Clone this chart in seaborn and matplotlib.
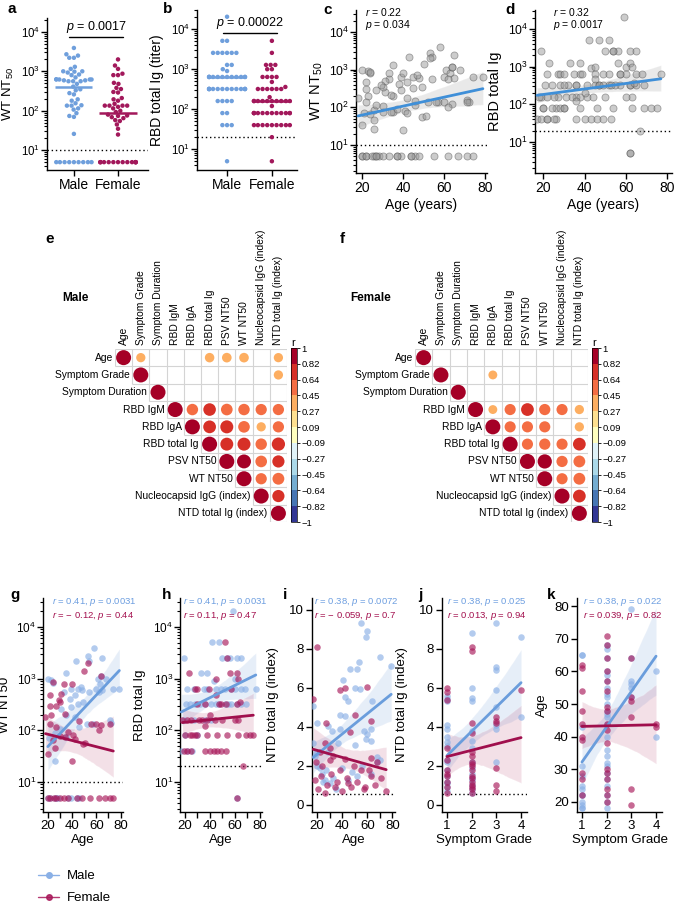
import numpy as np
import pandas as pd
import matplotlib
matplotlib.use("Agg")
import matplotlib.pyplot as plt
import matplotlib.cm as cm
from matplotlib.colors import ListedColormap, BoundaryNorm
from matplotlib.lines import Line2D
import seaborn as sns

# ---------- data ----------
# WT NT50 (a, c, g): age and titer per donor, 5 = below detection
wt_male_age = [58, 53, 54, 43, 65, 35, 23, 24, 61, 63, 68, 33, 39, 45, 48, 54, 60, 65, 74, 79,
               42, 49, 38, 45, 39, 31, 35, 42, 52, 57, 46, 71, 72, 30, 26, 26, 21, 35, 20, 47,
               64, 62, 20, 22, 26, 27, 28, 37, 39, 44, 46]
wt_male = [3900, 2700, 2200, 2200, 2500, 1300, 930, 830, 1000, 800, 980, 560, 620, 620, 590, 560,
           630, 590, 620, 620, 480, 350, 410, 330, 280, 260, 195, 180, 135, 135, 115, 155, 138, 107,
           87, 26, 70, 74, 1000, 700, 1150, 560, 5, 5, 5, 5, 5, 5, 5, 5, 5]
wt_female_age = [53, 50, 64, 24, 33, 40, 31, 30, 22, 22, 27, 29, 34, 18, 23, 22, 27, 37, 30, 34,
                 41, 42, 49, 51, 56, 60, 64, 71, 24, 26, 40, 20, 46, 62, 20, 22, 25, 27, 30, 33,
                 37, 44, 48, 55, 62, 67, 71, 74]
wt_female = [2000, 1400, 1150, 870, 800, 800, 510, 355, 480, 300, 290, 380, 210, 180, 195, 135, 115,
             93, 76, 74, 80, 69, 55, 58, 135, 135, 126, 135, 65, 45, 25, 35, 150, 100,
             5, 5, 5, 5, 5, 5, 5, 5, 5, 5, 5, 5, 5, 5]

# RBD total Ig (b, d, h)
rbd_male_age = [59, 42, 47, 19, 54, 56, 62, 50, 65, 33, 38, 60, 43, 22, 27, 35, 45, 49, 57, 60, 65,
                77, 38, 52, 68, 21, 24, 32, 41, 45, 47, 52, 57, 65, 69, 28, 36, 55, 62, 19, 27, 36,
                41, 20, 30, 17, 22, 26, 62]
rbd_male = [20480, 5120, 5120, 2560, 2560, 2560, 2560, 2560, 2560, 1280, 1280, 1000, 900,
            640, 640, 640, 640, 640, 640, 640, 640, 640, 640, 640, 640,
            320, 320, 320, 320, 320, 320, 320, 320, 320, 320, 320, 320, 320, 320,
            160, 160, 160, 160, 80, 80, 40, 40, 40, 5]
rbd_female_age = [52, 54, 23, 62, 56, 63, 45, 28, 30, 39, 57, 47, 49, 53, 36, 30, 62, 45, 64, 40,
                  18, 25, 31, 34, 44, 50, 63, 22, 38, 60, 36, 26, 28, 38, 46, 54, 63, 69, 72, 20,
                  24, 30, 75, 19, 36, 40, 43, 46, 49, 53, 22, 25, 67, 62]
rbd_female = [5120, 2560, 1280, 1280, 1280, 1000, 1000, 640, 640, 640, 640,
              320, 320, 320, 320, 320, 320, 480, 360, 200,
              160, 160, 160, 160, 160, 160, 160, 160, 160, 160, 120,
              80, 80, 80, 80, 80, 80, 80, 80, 80, 80, 80, 80,
              40, 40, 40, 40, 40, 40, 40, 40, 40, 20, 5]

# NTD total Ig (index) vs age (i)
ntd_male_age = [55, 60, 59, 70, 79, 53, 46, 52, 41, 50, 54, 42, 45, 64, 17, 38, 42, 20, 29, 32, 38,
                57, 60, 63, 59, 63, 37, 50, 17, 19, 29, 68, 68, 18, 20, 22, 24, 25, 27, 30, 33, 35,
                40, 45, 48, 52, 56, 63, 70, 26]
ntd_male = [9.3, 8.9, 8.6, 7.6, 7.1, 7.3, 6.95, 6.95, 6.4, 6.0, 5.95, 5.55, 5.35, 5.3, 5.05, 4.6,
            4.55, 4.2, 4.05, 3.8, 3.9, 3.8, 3.65, 3.9, 3.4, 3.3, 3.15, 3.05, 3.15, 2.65, 2.7, 2.45,
            2.2, 2.5, 2.0, 1.9, 1.6, 1.2, 1.8, 1.1, 1.4, 0.8, 1.9, 1.3, 1.7, 1.5, 2.0, 1.6, 2.3, 1.3]
ntd_female_age = [20, 17, 38, 42, 60, 27, 50, 63, 46, 26, 30, 63, 42, 49, 19, 24, 38, 55, 61, 18,
                  21, 23, 26, 28, 31, 34, 36, 40, 44, 47, 52, 57, 63, 66, 71, 75, 22, 30, 33, 58,
                  68, 45]
ntd_female = [8.1, 5.45, 5.9, 6.0, 6.05, 4.2, 4.6, 4.3, 3.75, 3.15, 2.9, 2.4, 2.35, 2.0, 2.2, 2.0,
              1.8, 1.8, 1.8, 1.3, 0.8, 1.5, 0.6, 1.0, 1.6, 0.9, 1.2, 0.7, 1.4, 0.9, 1.2, 0.8, 1.5,
              1.0, 1.4, 0.7, 2.7, 2.3, 2.5, 0.9, 2.2, 1.1]

# NTD total Ig vs symptom grade (j)
sg_ntd_male = [1, 1, 1, 1, 1, 1, 1, 1, 1, 1, 1, 1, 1, 1, 1, 1,
               2, 2, 2, 2, 2, 2, 2, 2, 2, 2, 2, 2, 2, 2, 2,
               3, 3, 3, 3, 3, 3, 3, 3, 4, 4]
ntd_sg_male = [5.3, 5.45, 5.6, 4.1, 3.9, 3.5, 3.2, 3.0, 2.3, 2.2, 1.8, 1.5, 1.2, 0.9, 0.7, 1.1,
               8.8, 6.0, 5.5, 5.35, 3.8, 3.3, 2.9, 2.2, 1.9, 1.6, 1.3, 1.0, 0.8, 0.6, 1.4,
               9.3, 7.05, 6.9, 5.9, 5.0, 4.1, 3.9, 2.2, 8.6, 4.5]
sg_ntd_female = [1, 1, 1, 1, 1, 1, 1, 1, 1, 1, 1,
                 2, 2, 2, 2, 2, 2, 2, 2, 2, 2, 2, 2, 2, 2, 2, 2, 2,
                 3, 3, 3, 3, 3, 3, 4]
ntd_sg_female = [6.0, 5.8, 5.4, 2.9, 1.8, 1.5, 1.2, 0.9, 0.6, 2.3, 1.6,
                 8.1, 7.9, 4.2, 3.7, 2.7, 2.5, 2.2, 2.0, 1.8, 1.5, 1.2, 1.0, 0.8, 0.6, 1.4, 2.1, 0.9,
                 4.5, 4.3, 4.2, 1.9, 1.0, 0.7, 5.9]

# Age vs symptom grade (k)
sg_age_male = [1, 1, 1, 1, 1, 1, 1, 1, 1, 1, 1, 1, 1,
               2, 2, 2, 2, 2, 2, 2, 2, 2, 2, 2, 2, 2, 2, 2, 2, 2, 2, 2, 2, 2, 2, 2, 2, 2,
               3, 3, 3, 3, 3, 3, 4, 4]
age_sg_male = [65, 65, 43, 31, 28, 25, 24, 22, 22, 20, 19, 18, 18,
               68, 67, 64, 60, 59, 57, 55, 53, 52, 50, 48, 47, 46, 44, 40, 36, 34, 32, 31, 29, 27,
               25, 22, 20, 18,
               79, 64, 57, 56, 55, 52, 60, 40]
sg_age_female = [1, 1, 1, 1, 1, 1, 1, 1, 1, 1,
                 2, 2, 2, 2, 2, 2, 2, 2, 2, 2, 2, 2, 2, 2, 2, 2, 2,
                 3, 3, 3, 3, 3, 3, 4, 4]
age_sg_female = [62, 61, 54, 48, 44, 40, 39, 29, 27, 22,
                 71, 68, 64, 60, 57, 54, 49, 48, 44, 42, 38, 30, 29, 27, 24, 22, 20,
                 64, 52, 51, 46, 24, 19, 44, 43]

# correlation matrices (upper triangle, each row starts at the diagonal; None = not significant)
corr_vars = ["Age", "Symptom Grade", "Symptom Duration", "RBD IgM", "RBD IgA", "RBD total Ig",
             "PSV NT50", "WT NT50", "Nucleocapsid IgG (index)", "NTD total Ig (index)"]
male_corr = [
    [1, 0.38, None, None, None, 0.40, 0.41, 0.41, None, 0.38],
    [1, None, None, None, None, None, None, None, 0.38],
    [1, None, None, None, None, None, None, None],
    [1, 0.58, 0.70, 0.60, 0.58, 0.56, 0.56],
    [1, 0.72, 0.75, 0.60, 0.38, 0.56],
    [1, 0.74, 0.75, 0.58, 0.78],
    [1, 0.86, 0.60, 0.66],
    [1, 0.56, 0.62],
    [1, 0.66],
    [1],
]
female_corr = [
    [1, None, None, None, None, None, None, None, None, None],
    [1, None, None, 0.35, None, None, None, None, None],
    [1, None, None, None, None, None, None, None],
    [1, 0.35, 0.55, 0.72, 0.56, 0.55, 0.38],
    [1, 0.55, 0.55, 0.55, None, 0.38],
    [1, 0.55, 0.56, 0.55, 0.72],
    [1, 0.90, 0.56, 0.62],
    [1, 0.55, 0.62],
    [1, 0.72],
    [1],
]
corr_bounds = np.linspace(-1, 1, 12)

# ---------- style ----------
sns.set_theme(style="ticks")
plt.rcParams.update({
    "font.family": ["Liberation Sans", "DejaVu Sans"],
    "mathtext.fontset": "custom",
    "mathtext.rm": "Liberation Sans",
    "mathtext.it": "Liberation Sans:italic",
    "mathtext.bf": "Liberation Sans:bold",
    "axes.linewidth": 1.0,
    "axes.edgecolor": "black",
    "xtick.color": "black",
    "ytick.color": "black",
    "text.color": "black",
    "axes.labelcolor": "black",
})

MALE = "#6f9fdc"
FEMALE = "#a2185b"
MALE_PT = "#8ab0e6"
FEMALE_PT = "#a8185a"
MALE_BAND = "#5b8fd6"
FEMALE_BAND = "#b03060"
MALE_LN = "#6a9ddc"
FEMALE_LN = "#a00f4d"
MALE_TXT = "#6d9ee0"
FEMALE_TXT = "#a3104e"
REG = "#3f8fd8"

W, H = 674, 905
fig = plt.figure(figsize=(W / 100, H / 100), dpi=100)


def box(l, t, r, b):
    return [l / W, 1 - b / H, (r - l) / W, (b - t) / H]


def letter(x, y, s):
    fig.text(x / W, 1 - y / H, s, fontsize=11, fontweight="bold", va="center", ha="left")


def clean(ax, size):
    sns.despine(ax=ax)
    ax.tick_params(which="major", length=4, width=1, direction="out", pad=2, labelsize=size)
    ax.tick_params(which="minor", length=2.2, width=0.8, direction="out")


def log_ticks(ax, lo, hi, size):
    majors = [n for n in range(0, 6) if lo <= n <= hi]
    ax.set_ylim(lo, hi)
    ax.set_yticks(majors)
    ax.set_yticklabels([f"$10^{{{n}}}$" for n in majors], fontsize=size)
    minors = [np.log10(k * 10.0 ** n) for n in range(0, 5) for k in range(2, 10)]
    ax.set_yticks([m for m in minors if lo <= m <= hi], minor=True)
    ax.tick_params(axis="y", which="major", pad=1)


def fit(ax, x, y, band, line):
    # CI band in one colour, fitted line in another
    x = np.asarray(x, float)
    y = np.asarray(y, float)
    sns.regplot(x=x, y=y, scatter=False, ax=ax, color=band, seed=0, line_kws=dict(lw=0))
    sns.regplot(x=x, y=y, scatter=False, ax=ax, ci=None, line_kws=dict(color=line, lw=2, zorder=4))


# ========== a, b: swarm by sex ==========
def strip_panel(ax, male, female, lod, ylo, yhi, xlim, ylabel, lx, lsize, ptxt, pline):
    df = pd.DataFrame({"sex": ["Male"] * len(male) + ["Female"] * len(female),
                       "v": np.log10(np.r_[male, female].astype(float))})
    sns.swarmplot(data=df, x="sex", y="v", hue="sex", order=["Male", "Female"],
                  palette={"Male": MALE, "Female": FEMALE}, size=3.2, linewidth=0,
                  legend=False, ax=ax, warn_thresh=1)
    for i, (s, c) in enumerate([("Male", MALE), ("Female", FEMALE)]):
        med = np.log10(np.median(10 ** df.loc[df.sex == s, "v"]))
        ax.hlines(med, i - 0.42, i + 0.42, color=c, lw=1.8, zorder=4)
    ax.axhline(np.log10(lod), ls=(0, (1, 2)), color="black", lw=1)
    ax.plot([-0.1, 1.12], [pline, pline], color="black", lw=1)
    ax.text(0.51, pline + 0.06, ptxt, ha="center", va="bottom", fontsize=9)
    clean(ax, 10)
    log_ticks(ax, ylo, yhi, 8.3)
    ax.set_xlim(*xlim)
    ax.set_xlabel("")
    ax.set_ylabel(ylabel, fontsize=lsize)
    ax.yaxis.set_label_coords(lx, 0.5)


ax_a = fig.add_axes(box(47, 18, 148, 170))
strip_panel(ax_a, wt_male, wt_female, 10, 0.5, 4.35, (-0.61, 1.68), "WT NT$_{50}$", -0.31, 9.5,
            "$p$ = 0.0017", 3.86)
ax_b = fig.add_axes(box(197, 10, 297, 170))
strip_panel(ax_b, rbd_male, rbd_female, 20, 0.48, 4.48, (-0.67, 1.56), "RBD total Ig (titer)",
            -0.33, 10, "$p$ = 0.00022", 3.9)


# ========== c, d: all donors vs age ==========
def scatter_panel(ax, age, vals, lod, ylo, yhi, xlim, ylabel, lx, rtxt, ptxt, tx):
    x = np.asarray(age, float)
    y = np.log10(np.asarray(vals, float))
    fit(ax, x, y, "#707070", REG)
    sns.scatterplot(x=x, y=y, ax=ax, color="#9a9a9a", alpha=0.5, edgecolor="#555555",
                    linewidth=0.6, s=26, zorder=3)
    ax.axhline(np.log10(lod), ls=(0, (1, 2)), color="black", lw=1)
    clean(ax, 10)
    log_ticks(ax, ylo, yhi, 8.8)
    ax.set_xlim(*xlim)
    ax.set_xticks([20, 40, 60, 80])
    ax.set_xlabel("Age (years)", fontsize=10, labelpad=2)
    ax.set_ylabel(ylabel, fontsize=10.5)
    ax.yaxis.set_label_coords(lx, 0.5)
    ax.text(tx, 0.985, rtxt, transform=ax.transAxes, fontsize=7.5, va="center")
    ax.text(tx, 0.91, ptxt, transform=ax.transAxes, fontsize=7.5, va="center")


ax_c = fig.add_axes(box(356, 10, 487, 173))
scatter_panel(ax_c, wt_male_age + wt_female_age, wt_male + wt_female, 10, 0.26, 4.58,
              (17, 81), "WT NT$_{50}$", -0.24, "$r$ = 0.22", "$p$ = 0.034", 0.07)
ax_d = fig.add_axes(box(535, 10, 672, 173))
scatter_panel(ax_d, rbd_male_age + rbd_female_age, rbd_male + rbd_female, 20, 0.18, 4.5,
              (16, 82.4), "RBD total Ig", -0.24, "$r$ = 0.32", "$p$ = 0.0017", 0.13)


# ========== e, f: correlation matrices ==========
cmap = plt.get_cmap("RdYlBu_r", 11)
bin_colors = [cmap(i) for i in range(11)]


def corr_panel(ax, cax, rows, title, tx):
    recs = []
    for i, row in enumerate(rows):
        for k, r in enumerate(row):
            if r is None:
                continue
            b = int(np.digitize(r, corr_bounds[1:-1]))
            recs.append(dict(x=i + k, y=i, a=abs(r), bin=str(b)))
    df = pd.DataFrame(recs)
    n = len(corr_vars)
    # grid of upper triangle
    ax.hlines([k - 0.5 for k in range(n + 1)], [max(k - 1, 0) - 0.5 for k in range(n + 1)],
              n - 0.5, color="#d4d4d4", lw=0.8, zorder=1)
    ax.vlines([k - 0.5 for k in range(n + 1)], -0.5, [min(k, n - 1) + 0.5 for k in range(n + 1)],
              color="#d4d4d4", lw=0.8, zorder=1)
    sns.scatterplot(data=df, x="x", y="y", hue="bin", size="a", sizes=(0, 117),
                    size_norm=(0, 1), palette={str(i): bin_colors[i] for i in range(11)},
                    linewidth=0, legend=False, ax=ax, zorder=2)
    for i, name in enumerate(corr_vars):
        ax.text(i - 0.62, i, name, ha="right", va="center", fontsize=7.4)
        ax.text(i, -0.75, name, ha="center", va="bottom", rotation=90, fontsize=7.4)
    ax.set_xlim(-0.5, n - 0.5)
    ax.set_ylim(n - 0.5, -0.5)
    ax.axis("off")
    fig.text(tx / W, 1 - 298 / H, title, fontsize=8.5, fontweight="bold", va="center")
    sm = cm.ScalarMappable(norm=BoundaryNorm(corr_bounds, 11), cmap=ListedColormap(bin_colors))
    cb = fig.colorbar(sm, cax=cax, ticks=corr_bounds)
    labs = []
    for v in corr_bounds:
        if abs(abs(v) - 1) < 1e-9:
            labs.append(f"{v:.0f}".replace("-", "\u2212"))
        else:
            labs.append(f"{v:.2f}".replace("-", "\u2212"))
    cb.ax.set_yticklabels(labs)
    cb.ax.tick_params(labelsize=6.8, length=2, width=0.6, pad=1)
    cb.outline.set_linewidth(0.5)
    cax.set_title("r", fontsize=8, pad=1, loc="left")


ax_e = fig.add_axes(box(115, 349, 287, 522))
cax_e = fig.add_axes(box(291, 348, 297, 522))
corr_panel(ax_e, cax_e, male_corr, "Male", 62)
ax_f = fig.add_axes(box(415, 349, 588, 522))
cax_f = fig.add_axes(box(592, 348, 598, 522))
corr_panel(ax_f, cax_f, female_corr, "Female", 350)


# ========== g-k: by sex ==========
def sex_panel(ax, xm, ym, xf, yf, txt_m, txt_f, tx, xlabel, ylabel, lx):
    fit(ax, xm, ym, MALE_BAND, MALE_LN)
    fit(ax, xf, yf, FEMALE_BAND, FEMALE_LN)
    sns.scatterplot(x=xm, y=ym, ax=ax, color=MALE_PT, alpha=0.65, linewidth=0, s=22, zorder=3)
    sns.scatterplot(x=xf, y=yf, ax=ax, color=FEMALE_PT, alpha=0.65, linewidth=0, s=22, zorder=3)
    ax.text(tx, 0.98, txt_m, transform=ax.transAxes, fontsize=6.8, color=MALE_TXT, va="center")
    ax.text(tx, 0.918, txt_f, transform=ax.transAxes, fontsize=6.8, color=FEMALE_TXT, va="center")
    ax.set_xlabel(xlabel, fontsize=9.5, labelpad=1)
    ax.set_ylabel(ylabel, fontsize=9.5)
    ax.yaxis.set_label_coords(lx, 0.5)
    clean(ax, 9.5)


def age_axis(ax):
    ax.set_xlim(16, 82)
    ax.set_xticks([20, 40, 60, 80])
    ax.set_xticks([30, 50, 70], minor=True)
    ax.tick_params(axis="x", which="minor", length=4, width=1)


def grade_axis(ax):
    ax.set_xlim(0.8, 4.24)
    ax.set_xticks([1, 2, 3, 4])


ax_g = fig.add_axes(box(43, 598, 123, 812))
sex_panel(ax_g, wt_male_age, np.log10(wt_male), wt_female_age, np.log10(wt_female),
          "$r$ = 0.41, $p$ = 0.0031", "$r$ = \u2212 0.12, $p$ = 0.44", 0.11, "Age", "WT NT50",
          -0.4)
ax_g.axhline(1, ls=(0, (1, 2)), color="black", lw=1)
log_ticks(ax_g, 0.42, 4.56, 8.5)
age_axis(ax_g)

ax_h = fig.add_axes(box(180, 598, 262, 812))
sex_panel(ax_h, rbd_male_age, np.log10(rbd_male), rbd_female_age, np.log10(rbd_female),
          "$r$ = 0.41, $p$ = 0.0031", "$r$ = 0.11, $p$ = 0.47", 0.04, "Age", "RBD total Ig",
          -0.42)
ax_h.axhline(np.log10(20), ls=(0, (1, 2)), color="black", lw=1)
log_ticks(ax_h, 0.42, 4.56, 8.5)
age_axis(ax_h)

ax_i = fig.add_axes(box(312, 598, 395, 812))
sex_panel(ax_i, ntd_male_age, ntd_male, ntd_female_age, ntd_female,
          "$r$ = 0.38, $p$ = 0.0072", "$r$ = \u2212 0.059, $p$ = 0.7", 0.03, "Age",
          "NTD total Ig (index)", -0.4)
ax_i.axhline(0.55, ls=(0, (1, 2)), color="black", lw=1)
ax_i.set_ylim(-0.36, 10.6)
ax_i.set_yticks([0, 2, 4, 6, 8, 10])
age_axis(ax_i)

ax_j = fig.add_axes(box(442, 598, 527, 812))
sex_panel(ax_j, sg_ntd_male, ntd_sg_male, sg_ntd_female, ntd_sg_female,
          "$r$ = 0.38, $p$ = 0.025", "$r$ = 0.013, $p$ = 0.94", 0.06, "Symptom Grade",
          "NTD total Ig (index)", -0.4)
ax_j.axhline(0.55, ls=(0, (1, 2)), color="black", lw=1)
ax_j.set_ylim(-0.36, 10.6)
ax_j.set_yticks([0, 2, 4, 6, 8, 10])
grade_axis(ax_j)

ax_k = fig.add_axes(box(577, 598, 662, 812))
sex_panel(ax_k, sg_age_male, age_sg_male, sg_age_female, age_sg_female,
          "$r$ = 0.38, $p$ = 0.022", "$r$ = 0.039, $p$ = 0.82", 0.07, "Symptom Grade", "Age",
          -0.34)
ax_k.set_ylim(16.9, 82.5)
ax_k.set_yticks([20, 30, 40, 50, 60, 70, 80])
grade_axis(ax_k)

# legend
handles = [Line2D([0], [0], color=MALE_PT, marker="o", markersize=4, lw=1),
           Line2D([0], [0], color=FEMALE_PT, marker="o", markersize=4, lw=1, alpha=0.85)]
fig.legend(handles, ["Male", "Female"], loc="upper left", bbox_to_anchor=(38 / W, 1 - 870 / H),
           frameon=False, fontsize=9.5, handlelength=1.6, labelspacing=0.75, handletextpad=0.6,
           borderaxespad=0, borderpad=0)

for x, y, s in [(8, 9, "a"), (163, 9, "b"), (323, 10, "c"), (505, 10, "d"), (45, 239, "e"),
                (340, 239, "f"), (10, 595, "g"), (162, 595, "h"), (283, 595, "i"),
                (418, 595, "j"), (547, 595, "k")]:
    letter(x, y, s)

fig.savefig("out.png", dpi=100)
